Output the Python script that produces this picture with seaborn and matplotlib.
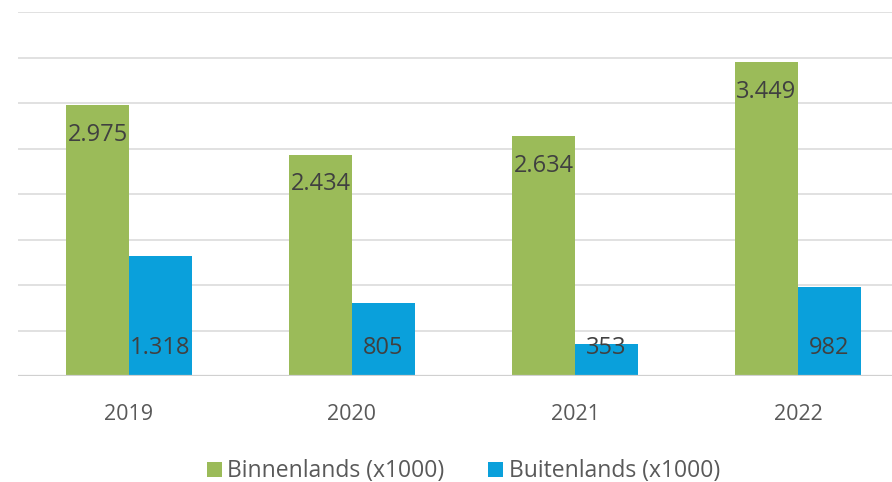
import matplotlib
matplotlib.use("Agg")
import matplotlib.pyplot as plt
import seaborn as sns
import pandas as pd

years = ["2019", "2020", "2021", "2022"]
binnenlands = [2975, 2434, 2634, 3449]
buitenlands = [1318, 805, 353, 982]
series_names = ["Binnenlands (x1000)", "Buitenlands (x1000)"]
colors = ["#9BBB59", "#0AA0DB"]

sns.set_theme(style="white")
plt.rcParams["font.family"] = ["Open Sans", "DejaVu Sans"]

df = pd.DataFrame({
    "jaar": years * 2,
    "waarde": binnenlands + buitenlands,
    "reeks": [series_names[0]] * len(years) + [series_names[1]] * len(years),
})

fig = plt.figure(figsize=(8.92, 4.82), dpi=100)
ax = fig.add_axes([17.5 / 892, 106 / 482, 892 / 892, 364 / 482])

sns.barplot(data=df, x="jaar", y="waarde", hue="reeks", palette=colors,
            width=0.565, gap=0, saturation=1, ax=ax, legend=True,
            errorbar=None, linewidth=0, edgecolor="none")

ax.set_ylim(0, 4000)
ax.set_xlim(-0.5, 3.5)
ax.set_yticks(range(0, 4001, 500))
ax.yaxis.grid(True, color="#D9D9D9", linewidth=1.1)
ax.set_axisbelow(True)
for s in ax.spines.values():
    s.set_visible(False)
ax.axhline(0, color="#D0D0D0", linewidth=1.6, zorder=1)
ax.set_yticklabels([])
ax.tick_params(axis="y", length=0)
ax.tick_params(axis="x", length=0, pad=20, labelsize=15.5, labelcolor="#595959")
ax.set_xlabel("")
ax.set_ylabel("")


def fmt(v):
    return f"{v:,}".replace(",", ".")


# value labels: inside the top of the green bars, at the base of the blue bars
for container, vals in zip(ax.containers, [binnenlands, buitenlands]):
    for bar, v in zip(container, vals):
        cx = bar.get_x() + bar.get_width() / 2
        if container is ax.containers[0]:
            ax.annotate(fmt(v), (cx, bar.get_height()), xytext=(0, -21.5),
                        textcoords="offset points", ha="center", va="center",
                        fontsize=17, color="#404040")
        else:
            ax.annotate(fmt(v), (cx, 0), xytext=(0, 20),
                        textcoords="offset points", ha="center", va="center",
                        fontsize=17, color="#404040")

leg = ax.legend(loc="upper center", bbox_to_anchor=(0.5, -0.185), ncol=2,
                frameon=False, fontsize=16.5, handlelength=0.65, handleheight=0.65,
                handletextpad=0.25, columnspacing=1.9, labelcolor="#595959",
                borderpad=0.2)

fig.savefig("out.png", dpi=100)
